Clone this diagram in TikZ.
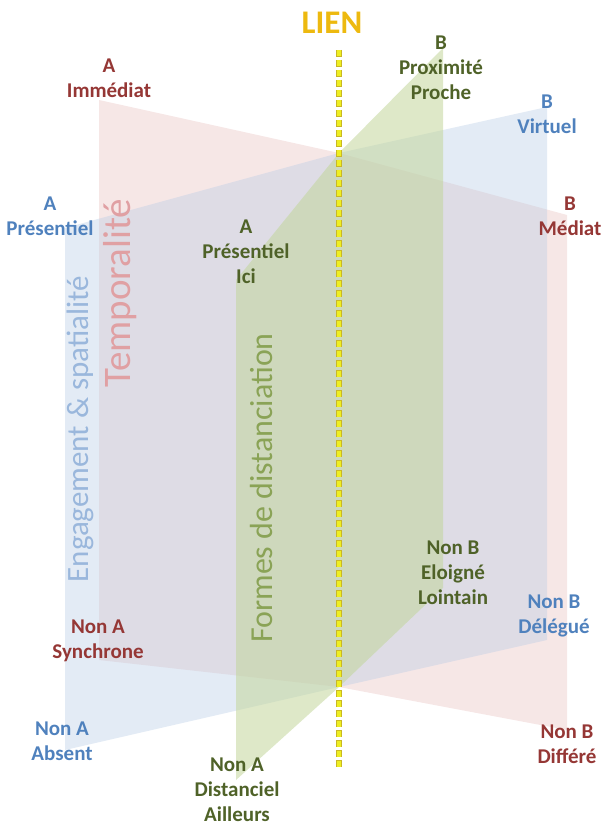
\documentclass[tikz,border=0pt]{standalone}
\usepackage{fontspec}
\setmainfont{Carlito}
\usetikzlibrary{calc}

\definecolor{rougetxt}{HTML}{953735}
\definecolor{bleutxt}{HTML}{4F81BD}
\definecolor{verttxt}{HTML}{4F6228}
\definecolor{rougeplan}{HTML}{E6B9B8}
\definecolor{bleuplan}{HTML}{B9CDE5}
\definecolor{vertplan}{HTML}{C3D69B}
\definecolor{rougeaxe}{HTML}{E0A0A3}
\definecolor{bleuaxe}{HTML}{9AB7DC}
\definecolor{vertaxe}{HTML}{8AA356}
\definecolor{lienor}{HTML}{EDB90F}
\definecolor{lienjaune}{HTML}{EEEE22}
\definecolor{lienbord}{HTML}{C9B823}

\tikzset{
  lbl/.style={align=center, inner sep=0pt, font=\bfseries\fontsize{21}{25}\selectfont},
  axe/.style={rotate=90, inner sep=0pt, font=\fontsize{32}{32}\selectfont},
}

\begin{document}
\begin{tikzpicture}[x=1pt, y=-1pt]
  \useasboundingbox (0,0) rectangle (604,826);

  % points ou les plans coupent le lien
  \coordinate (xhaut) at (339,153);
  \coordinate (xbas) at (339,687);

  % plan temporalite
  \fill[rougeplan, fill opacity=0.35] (99,100) -- (xhaut) -- (567,215) -- (567,730) -- (xbas) -- (99,660) -- cycle;
  % plan engagement et spatialite
  \fill[bleuplan, fill opacity=0.4] (65,228) -- (xhaut) -- (547,107) -- (547,640) -- (xbas) -- (65,750) -- cycle;
  % plan formes de distanciation
  \fill[vertplan, fill opacity=0.55] (443,48) -- (xhaut) -- (236,280) -- (236,780) -- (xbas) -- (443,588) -- cycle;

  % le lien
  \node[text=lienor, inner sep=0pt, font=\bfseries\fontsize{33}{33}\selectfont] (lien) at (332,23) {LIEN};
  \coordinate (lienhaut) at (339,50);
  \coordinate (lienbas) at (339,768);
  \draw[lienbord, line width=5.5pt, dash pattern=on 7pt off 3pt] (lienhaut) -- (lienbas);
  \draw[lienjaune, line width=3.5pt, dash pattern=on 6pt off 4pt, dash phase=-0.5pt] (lienhaut) -- (lienbas);

  % titres des axes
  \node[axe, text=rougeaxe, font=\fontsize{39}{39}\selectfont] (temporalite) at (120,293) {Temporalité};
  \node[axe, text=bleuaxe, font=\fontsize{31}{31}\selectfont] (engagement) at (80,429) {Engagement \& spatialité};
  \node[axe, text=vertaxe] (formes) at (262,488) {Formes de distanciation};

  % temporalite
  \node[lbl, text=rougetxt] (immediat) at (109,78) {A\\Immédiat};
  \node[lbl, text=rougetxt] (mediat) at (570,216) {B\\Médiat};
  \node[lbl, text=rougetxt] (synchrone) at (98,641) {Non A\\Synchrone};
  \node[lbl, text=rougetxt] (differe) at (567,744) {Non B\\Différé};

  % engagement et spatialite
  \node[lbl, text=bleutxt] (presentiel) at (50,216) {A\\Présentiel};
  \node[lbl, text=bleutxt] (virtuel) at (547,114) {B\\Virtuel};
  \node[lbl, text=bleutxt] (delegue) at (554,616) {Non B\\Délégué};
  \node[lbl, text=bleutxt] (absent) at (62,741) {Non A\\Absent};

  % formes de distanciation
  \node[lbl, text=verttxt] (proche) at (441,68) {B\\Proximité\\Proche};
  \node[lbl, text=verttxt] (ici) at (246,252) {A\\Présentiel\\Ici};
  \node[lbl, text=verttxt] (lointain) at (453,573) {Non B\\Eloigné\\Lointain};
  \node[lbl, text=verttxt] (ailleurs) at (237,790) {Non A\\Distanciel\\Ailleurs};
\end{tikzpicture}
\end{document}
